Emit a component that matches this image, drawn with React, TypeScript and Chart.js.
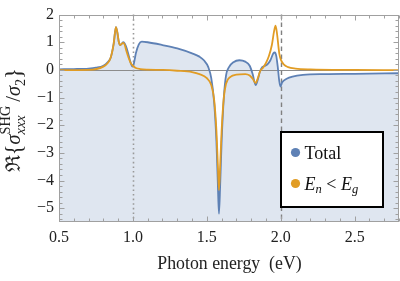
import React, { useEffect, useRef } from 'react';
import { Chart, registerables } from 'chart.js';

Chart.register(...registerables);

// ---- data ----
const totalX = [0.5, 0.6, 0.7, 0.75, 0.8, 0.83, 0.85, 0.87, 0.885, 0.895, 0.905, 0.915, 0.925, 0.935, 0.945, 0.96, 0.975, 0.99, 0.997, 1.005, 1.02, 1.04, 1.06, 1.1, 1.2, 1.3, 1.4, 1.45, 1.48, 1.51, 1.53, 1.55, 1.565, 1.575, 1.582, 1.59, 1.6, 1.615, 1.63, 1.65, 1.68, 1.72, 1.76, 1.79, 1.81, 1.83, 1.845, 1.86, 1.875, 1.89, 1.91, 1.93, 1.95, 1.96, 1.97, 1.98, 1.99, 1.998, 2.01, 2.04, 2.08, 2.15, 2.3, 2.5, 2.8];
const totalY = [0.02, 0.03, 0.05, 0.08, 0.15, 0.28, 0.45, 0.95, 1.55, 1.35, 1.0, 0.9, 0.95, 1.0, 0.95, 0.75, 0.45, 0.18, 0.12, 0.2, 0.6, 0.92, 1.02, 1.0, 0.9, 0.78, 0.6, 0.48, 0.35, 0.1, -0.3, -1.2, -2.6, -4.2, -5.2, -4.2, -2.6, -1.0, -0.2, 0.1, 0.28, 0.35, 0.3, 0.15, -0.15, -0.55, -0.35, -0.05, 0.1, 0.14, 0.2, 0.35, 0.6, 0.63, 0.5, 0.1, -0.4, -0.6, -0.45, -0.32, -0.24, -0.18, -0.15, -0.14, -0.12];

const partialX = [0.5, 0.7, 0.8, 0.83, 0.85, 0.87, 0.885, 0.895, 0.905, 0.915, 0.925, 0.935, 0.945, 0.955, 0.97, 0.985, 1.0, 1.02, 1.05, 1.1, 1.2, 1.3, 1.4, 1.45, 1.5, 1.53, 1.55, 1.565, 1.575, 1.582, 1.59, 1.6, 1.615, 1.63, 1.66, 1.7, 1.76, 1.79, 1.81, 1.83, 1.845, 1.86, 1.88, 1.9, 1.92, 1.94, 1.955, 1.965, 1.975, 1.99, 2.0, 2.02, 2.05, 2.1, 2.2, 2.5, 2.8];
const partialY = [-0.01, 0.0, 0.12, 0.25, 0.45, 0.95, 1.55, 1.35, 1.0, 0.9, 0.95, 0.98, 0.9, 0.7, 0.45, 0.25, 0.15, 0.07, 0.03, 0.01, 0.0, -0.03, -0.08, -0.15, -0.3, -0.55, -1.1, -2.2, -3.5, -4.35, -3.5, -2.2, -1.0, -0.5, -0.25, -0.17, -0.15, -0.2, -0.32, -0.47, -0.3, -0.05, 0.08, 0.25, 0.5, 0.9, 1.4, 1.6, 1.3, 0.6, 0.38, 0.2, 0.1, 0.05, 0.02, 0.0, -0.01];

const xTicks = [0.5, 1.0, 1.5, 2.0, 2.5];
const yTicks = [2, 1, 0, -1, -2, -3, -4, -5];
const xRefDotted = 1.0;
const xRefDashed = 2.0;
const xTitle = 'Photon energy  (eV)';
const legendTotal = 'Total';

const BLUE = '#5e81b5';
const ORANGE = '#e19c24';
const SERIF = "'Liberation Serif', 'DejaVu Serif', serif";

type Piece = { t: string; font: string; dy: number; adv?: boolean };

function drawPieces(ctx: CanvasRenderingContext2D, pieces: Piece[], x0: number, y0: number) {
  let x = x0;
  for (const p of pieces) {
    ctx.font = p.font;
    ctx.fillText(p.t, x, y0 + p.dy);
    if (p.adv !== false) x += ctx.measureText(p.t).width;
  }
  return x - x0;
}

const decorPlugin = {
  id: 'decor',
  beforeDatasetsDraw(chart: any) {
    const ctx = chart.ctx as CanvasRenderingContext2D;
    const { left, right, top, bottom } = chart.chartArea;
    const xs = chart.scales.x;
    const ys = chart.scales.y;
    ctx.save();
    const y0 = Math.round(ys.getPixelForValue(0)) + 0.5;
    ctx.strokeStyle = '#8c8c8c';
    ctx.lineWidth = 1.2;
    ctx.beginPath();
    ctx.moveTo(left, y0);
    ctx.lineTo(right, y0);
    ctx.stroke();
    const xd = Math.round(xs.getPixelForValue(xRefDotted)) + 0.5;
    ctx.strokeStyle = '#999999';
    ctx.lineWidth = 1.6;
    ctx.setLineDash([1.6, 3]);
    ctx.beginPath();
    ctx.moveTo(xd, top);
    ctx.lineTo(xd, bottom);
    ctx.stroke();
    const xe = Math.round(xs.getPixelForValue(xRefDashed)) + 0.5;
    ctx.strokeStyle = '#808080';
    ctx.lineWidth = 1.4;
    ctx.setLineDash([4.5, 3.5]);
    ctx.beginPath();
    ctx.moveTo(xe, top);
    ctx.lineTo(xe, bottom);
    ctx.stroke();
    ctx.restore();
  },
  afterDraw(chart: any) {
    const ctx = chart.ctx as CanvasRenderingContext2D;
    const { left, right, top, bottom } = chart.chartArea;
    const xs = chart.scales.x;
    const ys = chart.scales.y;
    ctx.save();
    ctx.strokeStyle = '#a0a0a0';
    ctx.lineWidth = 1;
    ctx.setLineDash([]);
    const L = Math.round(left) + 0.5, R = Math.round(right) - 0.5;
    const T = Math.round(top) + 0.5, B = Math.round(bottom) - 0.5;
    ctx.strokeRect(L, T, R - L, B - T);
    ctx.beginPath();
    for (let i = 5; i <= 28; i++) {
      const px = Math.round(xs.getPixelForValue(i / 10)) + 0.5;
      const len = i % 5 === 0 ? 5 : 3;
      ctx.moveTo(px, B);
      ctx.lineTo(px, B - len);
      ctx.moveTo(px, T);
      ctx.lineTo(px, T + len);
    }
    for (let i = -27; i <= 10; i++) {
      const py = Math.round(ys.getPixelForValue(i / 5)) + 0.5;
      const len = i % 5 === 0 ? 5 : 3;
      ctx.moveTo(L, py);
      ctx.lineTo(L + len, py);
      ctx.moveTo(R, py);
      ctx.lineTo(R - len, py);
    }
    ctx.stroke();

    // x title
    ctx.fillStyle = '#222';
    ctx.font = `17.8px ${SERIF}`;
    ctx.textAlign = 'center';
    ctx.textBaseline = 'alphabetic';
    ctx.fillText(xTitle, 229.5, 268.5);

    // y title (rotated, with sub/superscripts), scaled to the reference length
    ctx.textAlign = 'left';
    const big = `17px ${SERIF}`;
    const bigI = `italic 17px ${SERIF}`;
    const sm = `12px ${SERIF}`;
    const smI = `italic 12px ${SERIF}`;
    const pieces: Piece[] = [
      { t: '\u211C', font: big, dy: 0 },
      { t: '{', font: `19px ${SERIF}`, dy: 0.5 },
      { t: '\u03C3', font: bigI, dy: 0 },
      { t: 'SHG', font: sm, dy: -8.5, adv: false },
      { t: 'xxx', font: smI, dy: 4.5 },
      { t: '\u2009/', font: big, dy: 0 },
      { t: '\u03C3', font: bigI, dy: 0 },
      { t: '2', font: sm, dy: 4.5 },
      { t: '}', font: `19px ${SERIF}`, dy: 0.5 },
    ];
    ctx.font = sm;
    const wShg = ctx.measureText('SHG').width;
    ctx.font = smI;
    const wXxx = ctx.measureText('xxx').width;
    const extra = Math.max(0, wShg - wXxx);
    let w = extra;
    for (const p of pieces) {
      ctx.font = p.font;
      if (p.adv !== false) w += ctx.measureText(p.t).width;
    }
    const targetLen = 104;
    const s = Math.min(1.25, Math.max(0.75, targetLen / w));
    ctx.save();
    ctx.translate(20, 120);
    ctx.rotate(-Math.PI / 2);
    ctx.scale(s, s);
    let x = -w / 2;
    for (let k = 0; k < pieces.length; k++) {
      const p = pieces[k];
      ctx.font = p.font;
      ctx.fillText(p.t, x, p.dy);
      if (p.adv !== false) x += ctx.measureText(p.t).width;
      if (k === 4) x += extra;
    }
    ctx.restore();

    // legend box
    ctx.fillStyle = '#ffffff';
    ctx.fillRect(281, 132, 102, 75);
    ctx.strokeStyle = '#000000';
    ctx.lineWidth = 2;
    ctx.strokeRect(281, 132, 102, 75);
    ctx.fillStyle = BLUE;
    ctx.beginPath();
    ctx.arc(295.5, 152.5, 4.6, 0, Math.PI * 2);
    ctx.fill();
    ctx.fillStyle = ORANGE;
    ctx.beginPath();
    ctx.arc(295.5, 183.5, 4.6, 0, Math.PI * 2);
    ctx.fill();
    ctx.fillStyle = '#111';
    ctx.font = `18px ${SERIF}`;
    ctx.fillText(legendTotal, 304.5, 158.5);
    const lbig = `18px ${SERIF}`;
    const lbigI = `italic 18px ${SERIF}`;
    const lsmI = `italic 12.5px ${SERIF}`;
    const lp: Piece[] = [
      { t: 'E', font: lbigI, dy: 0 },
      { t: 'n', font: lsmI, dy: 3.5 },
      { t: ' < ', font: lbig, dy: 0 },
      { t: 'E', font: lbigI, dy: 0 },
      { t: 'g', font: lsmI, dy: 3.5 },
    ];
    drawPieces(ctx, lp, 304.5, 189.5);
    ctx.restore();
  },
};

export default function App() {
  const ref = useRef<HTMLCanvasElement | null>(null);
  useEffect(() => {
    document.body.style.margin = '0';
    const canvas = ref.current;
    if (!canvas) return;
    const totalData = totalX.map((x, i) => ({ x, y: totalY[i] }));
    const partialData = partialX.map((x, i) => ({ x, y: partialY[i] }));
    const chart = new Chart(canvas, {
      type: 'line',
      data: {
        datasets: [
          {
            label: 'E_n < E_g',
            data: partialData,
            borderColor: ORANGE,
            borderWidth: 1.8,
            pointRadius: 0,
            fill: false,
            cubicInterpolationMode: 'monotone',
            order: 0,
          },
          {
            label: 'Total',
            data: totalData,
            borderColor: BLUE,
            borderWidth: 1.8,
            pointRadius: 0,
            fill: 'start',
            backgroundColor: 'rgba(94,129,181,0.2)',
            cubicInterpolationMode: 'monotone',
            order: 1,
          },
        ],
      },
      options: {
        responsive: false,
        animation: false,
        devicePixelRatio: 1,
        layout: { padding: { top: 11, right: 1, left: 0, bottom: 0 } },
        plugins: {
          legend: { display: false },
          tooltip: { enabled: false },
          filler: { drawTime: 'beforeDatasetsDraw' },
        },
        scales: {
          x: {
            type: 'linear',
            min: 0.5,
            max: 2.8,
            grid: { display: false, drawTicks: false },
            border: { display: false },
            afterBuildTicks: (s: any) => {
              s.ticks = xTicks.map((v) => ({ value: v }));
            },
            afterFit: (s: any) => {
              s.height = 59;
            },
            ticks: {
              color: '#222',
              font: { family: SERIF, size: 16 },
              padding: 6,
              maxRotation: 0,
              autoSkip: false,
              callback: (v: any) => Number(v).toFixed(1),
            },
          },
          y: {
            type: 'linear',
            min: -5.5,
            max: 2,
            grid: { display: false, drawTicks: false },
            border: { display: false },
            afterBuildTicks: (s: any) => {
              s.ticks = yTicks.map((v) => ({ value: v }));
            },
            afterFit: (s: any) => {
              s.width = 59;
            },
            ticks: {
              color: '#222',
              font: { family: SERIF, size: 16 },
              padding: 5,
              autoSkip: false,
              callback: (v: any) => String(v).replace('-', '\u2212'),
            },
          },
        },
      },
      plugins: [decorPlugin],
    } as any);
    return () => chart.destroy();
  }, []);
  return <canvas ref={ref} width={400} height={281} style={{ display: 'block' }} />;
}
